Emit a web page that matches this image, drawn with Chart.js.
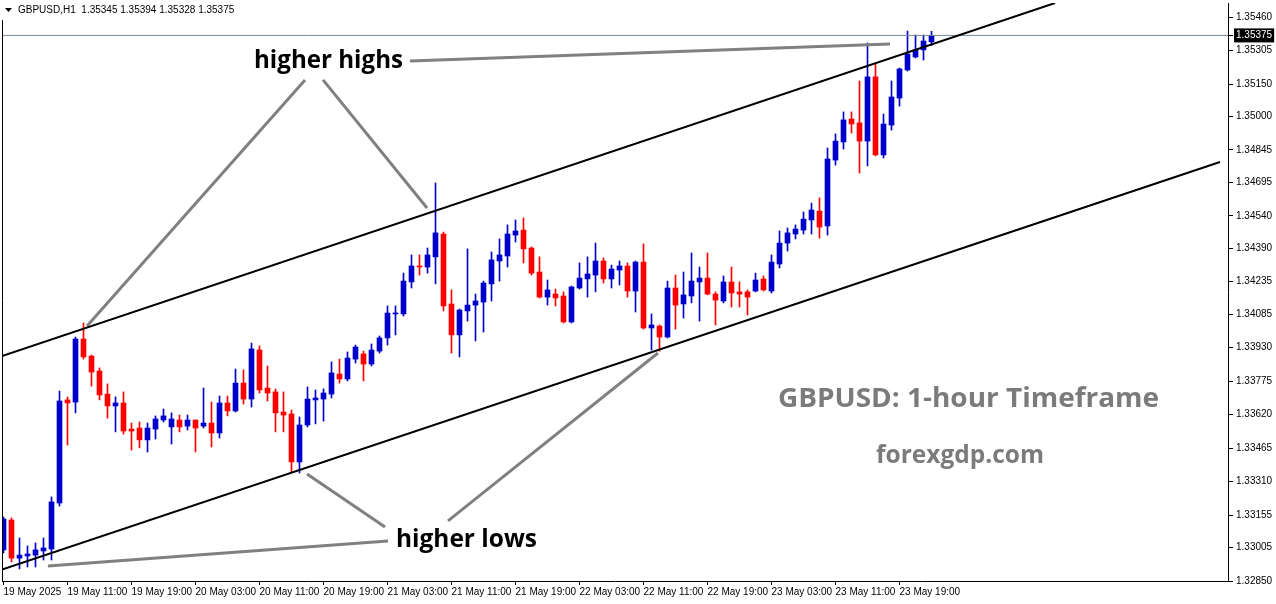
<!DOCTYPE html>
<html><head><meta charset="utf-8">
<script src="https://cdn.jsdelivr.net/npm/chart.js@4.4.1/dist/chart.umd.min.js"></script>
<style>html,body{margin:0;padding:0;background:#fff;}#wrap{width:1276px;height:604px;position:relative;}</style>
</head><body><div id="wrap"><canvas id="c"></canvas></div>
<script>
const symbol = 'GBPUSD,H1';
// one label every 8 hourly candles (index 0, 8, 16 ...)
const timeLabels = ['19 May 2025','19 May 11:00','19 May 19:00','20 May 03:00','20 May 11:00','20 May 19:00','21 May 03:00','21 May 11:00','21 May 19:00','22 May 03:00','22 May 11:00','22 May 19:00','23 May 03:00','23 May 11:00','23 May 19:00'];
const opens = [1.32994,1.33132,1.32956,1.32966,1.32970,1.32989,1.32998,1.33211,1.33688,1.33678,
1.33970,1.33891,1.33822,1.33715,1.33660,1.33674,1.33553,1.33558,1.33503,1.33553,
1.33595,1.33563,1.33595,1.33567,1.33595,1.33567,1.33581,1.33535,1.33674,1.33637,
1.33766,1.33692,1.33919,1.33743,1.33725,1.33632,1.33623,1.33401,1.33572,1.33688,
1.33692,1.33715,1.33808,1.33785,1.33877,1.33901,1.33854,1.33914,1.33975,1.34086,
1.34086,1.34234,1.34308,1.34303,1.34350,1.34456,1.34132,1.33989,1.34100,1.34127,
1.34141,1.34225,1.34331,1.34354,1.34451,1.34474,1.34391,1.34280,1.34164,1.34178,
1.34169,1.34049,1.34206,1.34248,1.34266,1.34331,1.34248,1.34289,1.34308,1.34192,
1.34326,1.34021,1.34030,1.33979,1.34206,1.34132,1.34169,1.34234,1.34252,1.34178,
1.34146,1.34234,1.34188,1.34188,1.34192,1.34248,1.34192,1.34317,1.34414,1.34456,
1.34474,1.34521,1.34562,1.34493,1.34798,1.34882,1.34988,1.34970,1.34886,1.35183,
1.34822,1.34960,1.35085,1.35215,1.35275,1.35308,1.35345];
const highs = [1.33146,1.33142,1.33049,1.33012,1.33026,1.33049,1.33239,1.33729,1.33702,1.33979,
1.34044,1.33896,1.33836,1.33762,1.33702,1.33725,1.33581,1.33586,1.33581,1.33614,
1.33646,1.33628,1.33618,1.33618,1.33595,1.33743,1.33678,1.33706,1.33706,1.33831,
1.33827,1.33951,1.33938,1.33845,1.33739,1.33725,1.33641,1.33609,1.33748,1.33734,
1.33739,1.33864,1.33877,1.33910,1.33942,1.33914,1.33947,1.33984,1.34123,1.34123,
1.34275,1.34359,1.34359,1.34391,1.34692,1.34465,1.34197,1.34109,1.34387,1.34178,
1.34238,1.34373,1.34433,1.34498,1.34521,1.34530,1.34396,1.34350,1.34243,1.34201,
1.34188,1.34215,1.34322,1.34350,1.34414,1.34345,1.34312,1.34331,1.34322,1.34331,
1.34410,1.34086,1.34035,1.34238,1.34266,1.34280,1.34368,1.34303,1.34368,1.34188,
1.34262,1.34303,1.34234,1.34197,1.34275,1.34262,1.34359,1.34470,1.34484,1.34498,
1.34558,1.34599,1.34623,1.34854,1.34919,1.35021,1.35021,1.35164,1.35340,1.35243,
1.35011,1.35164,1.35224,1.35395,1.35377,1.35377,1.35394];
const lows = [1.32980,1.32938,1.32906,1.32915,1.32915,1.32947,1.32947,1.33197,1.33479,1.33628,
1.33877,1.33752,1.33688,1.33604,1.33540,1.33530,1.33456,1.33466,1.33447,1.33507,
1.33586,1.33484,1.33540,1.33549,1.33447,1.33558,1.33470,1.33512,1.33614,1.33632,
1.33669,1.33655,1.33720,1.33683,1.33540,1.33540,1.33354,1.33350,1.33563,1.33577,
1.33590,1.33697,1.33766,1.33776,1.33859,1.33776,1.33845,1.33905,1.33942,1.33989,
1.34076,1.34206,1.34266,1.34275,1.34225,1.34100,1.33905,1.33887,1.34053,1.33961,
1.34002,1.34146,1.34238,1.34303,1.34419,1.34322,1.34266,1.34160,1.34127,1.34123,
1.34044,1.34044,1.34201,1.34164,1.34188,1.34229,1.34206,1.34220,1.34164,1.34095,
1.34016,1.33919,1.33914,1.33975,1.34016,1.34067,1.34137,1.34053,1.34174,1.34035,
1.34137,1.34118,1.34118,1.34081,1.34188,1.34192,1.34183,1.34299,1.34377,1.34433,
1.34456,1.34456,1.34437,1.34451,1.34775,1.34849,1.34923,1.34738,1.34771,1.34817,
1.34808,1.34937,1.35048,1.35210,1.35271,1.35261,1.35328];
const closes = [1.33137,1.32956,1.32970,1.32975,1.32994,1.33003,1.33216,1.33683,1.33674,1.33970,
1.33887,1.33817,1.33711,1.33660,1.33674,1.33544,1.33544,1.33503,1.33558,1.33600,
1.33614,1.33600,1.33563,1.33595,1.33558,1.33581,1.33535,1.33674,1.33637,1.33766,
1.33692,1.33924,1.33734,1.33720,1.33628,1.33618,1.33401,1.33572,1.33692,1.33697,
1.33720,1.33813,1.33785,1.33882,1.33933,1.33854,1.33919,1.33975,1.34090,1.34090,
1.34238,1.34308,1.34303,1.34359,1.34461,1.34123,1.33989,1.34104,1.34127,1.34146,
1.34229,1.34336,1.34359,1.34456,1.34470,1.34387,1.34275,1.34164,1.34197,1.34160,
1.34049,1.34211,1.34252,1.34271,1.34331,1.34248,1.34294,1.34308,1.34192,1.34326,
1.34021,1.34035,1.33979,1.34206,1.34127,1.34174,1.34238,1.34252,1.34178,1.34150,
1.34234,1.34183,1.34178,1.34164,1.34243,1.34197,1.34326,1.34414,1.34461,1.34479,
1.34525,1.34567,1.34488,1.34803,1.34886,1.34984,1.34965,1.34886,1.35183,1.34822,
1.34965,1.35090,1.35220,1.35289,1.35308,1.35349,1.35375];
const priceTicks = [1.35460,1.35305,1.35150,1.35000,1.34845,1.34695,1.34540,1.34390,1.34235,1.34085,1.33930,1.33775,1.33620,1.33465,1.33310,1.33155,1.33005,1.32850];
const lastPrice = 1.35375;
// drawn objects: [candle index, price]
const upperChannel = [[-0.1875,1.33891],[131.44,1.35525]];
const lowerChannel = [[-0.1875,1.32903],[152.06,1.34789]];
const highsBase = [[50.81,1.35257],[110.81,1.35335]];
const highsArrowA = [[37.69,1.35169],[10.44,1.34030]];
const highsArrowB = [[39.94,1.35169],[52.94,1.34576]];
const lowsBase = [[5.56,1.32919],[48.06,1.33035]];
const lowsArrowA = [[47.69,1.33100],[37.94,1.33345]];
const lowsArrowB = [[55.56,1.33128],[81.81,1.33905]];

const BLUE = '#0000cc', RED = '#ff0000';
const idx = opens.map((_, i) => i);
const colors = idx.map(i => closes[i] >= opens[i] ? BLUE : RED);
const wickData = idx.map(i => ({x: i, y: [lows[i], highs[i]]}));
const bodyData = idx.map(i => ({x: i, y: [Math.min(opens[i], closes[i]), Math.max(opens[i], closes[i])]}));
const pts = a => a.map(p => ({x: p[0], y: p[1]}));
const lineDs = (a, color, w) => ({type: 'line', data: pts(a), borderColor: color, borderWidth: w, pointRadius: 0, fill: false, tension: 0, order: 0});
const XMIN = -0.1875, XMAX = 153.0625;

const overlay = {
  id: 'overlay',
  afterDraw(chart) {
    const ctx = chart.ctx;
    const a = chart.chartArea;
    ctx.save();
    ctx.strokeStyle = '#000'; ctx.lineWidth = 1;
    ctx.beginPath(); ctx.moveTo(2.5, 20); ctx.lineTo(2.5, a.bottom); ctx.stroke();
    // header
    ctx.fillStyle = '#000';
    ctx.beginPath(); ctx.moveTo(5, 8); ctx.lineTo(12, 8); ctx.lineTo(8.5, 12); ctx.closePath(); ctx.fill();
    const n = opens.length - 1;
    ctx.font = '10px "Liberation Sans"'; ctx.textBaseline = 'middle'; ctx.textAlign = 'left';
    ctx.fillText(symbol + '  ' + [opens[n], highs[n], lows[n], closes[n]].map(v => v.toFixed(5)).join(' '), 18, 10);
    const fit = (t, x, yb, w, size, color) => {
      ctx.save(); ctx.font = 'bold ' + size + 'px "Open Sans"'; ctx.fillStyle = color; ctx.textBaseline = 'alphabetic';
      const m = ctx.measureText(t).width; ctx.translate(x, yb); ctx.scale(w / m, 1); ctx.fillText(t, 0, 0); ctx.restore();
    };
    fit('higher highs', 254, 68, 149, 25, '#000');
    fit('higher lows', 396, 547, 141, 25, '#000');
    fit('GBPUSD: 1-hour Timeframe', 778, 407, 381, 26, '#7b7b7b');
    fit('forexgdp.com', 876, 463, 168, 25, '#7b7b7b');
    ctx.restore();
  }
};

new Chart(document.getElementById('c'), {
  type: 'bar',
  data: {
    datasets: [
      lineDs(upperChannel, '#000', 2),
      lineDs(lowerChannel, '#000', 2),
      lineDs(highsBase, '#808080', 3),
      lineDs(highsArrowA, '#808080', 3),
      lineDs(highsArrowB, '#808080', 3),
      lineDs(lowsBase, '#808080', 3),
      lineDs(lowsArrowA, '#808080', 3),
      lineDs(lowsArrowB, '#808080', 3),
      lineDs([[XMIN, lastPrice], [XMAX, lastPrice]], '#778899', 1),
      {type: 'bar', data: bodyData, backgroundColor: colors, barThickness: 5, minBarLength: 1, grouped: false, borderWidth: 0, order: 1},
      {type: 'bar', data: wickData, backgroundColor: colors, barThickness: 1, minBarLength: 1, grouped: false, borderWidth: 0, order: 2}
    ]
  },
  options: {
    responsive: true, maintainAspectRatio: false, animation: false, devicePixelRatio: 1,
    layout: {padding: {left: 2, top: 3, right: 0, bottom: 0}},
    plugins: {legend: {display: false}, tooltip: {enabled: false}},
    scales: {
      x: {
        type: 'linear', min: XMIN, max: XMAX, offset: false,
        grid: {offset: false, drawOnChartArea: false, drawTicks: true, tickLength: 4, tickColor: '#000'},
        border: {display: true, color: '#000', width: 1},
        afterBuildTicks: s => { s.ticks = timeLabels.map((_, k) => ({value: k * 8})); },
        afterFit: s => { s.height = 23; s.paddingLeft = 0; s.paddingRight = 0; },
        ticks: {autoSkip: false, maxRotation: 0, minRotation: 0, align: 'start', padding: 1, color: '#000',
          font: {family: '"Liberation Sans"', size: 10},
          callback: v => timeLabels[Math.round(v / 8)]}
      },
      y: {
        type: 'linear', position: 'right', min: 1.32850, max: 1.35525,
        grid: {drawOnChartArea: false, drawTicks: true, tickLength: 5, tickColor: '#000'},
        border: {display: true, color: '#000', width: 1},
        afterBuildTicks: s => { s.ticks = priceTicks.concat([lastPrice]).map(v => ({value: v})); },
        afterFit: s => { s.width = 48; s.paddingTop = 0; s.paddingBottom = 0; },
        ticks: {autoSkip: false, padding: 3,
          font: {family: '"Liberation Sans"', size: 10},
          color: c => (c.tick && c.tick.value === lastPrice) ? '#fff' : '#000',
          showLabelBackdrop: c => !!(c.tick && c.tick.value === lastPrice),
          backdropColor: '#000', backdropPadding: {x: 2, y: 1},
          callback: v => v.toFixed(5)}
      }
    }
  },
  plugins: [overlay]
});
</script></body></html>
